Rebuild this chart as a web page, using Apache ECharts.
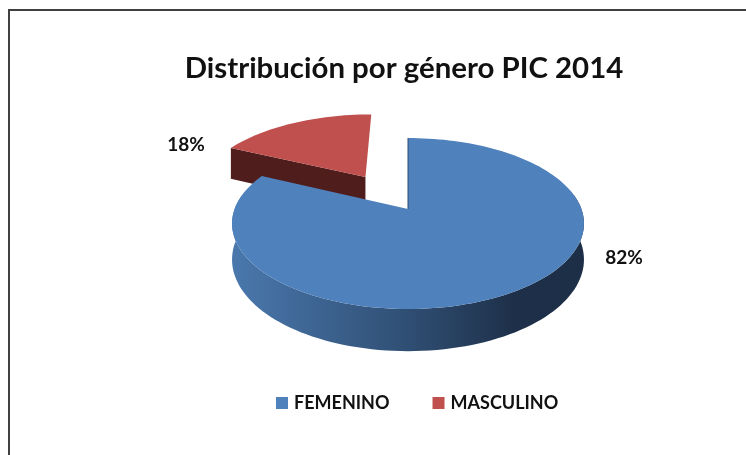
<!DOCTYPE html>
<html>
<head>
<meta charset="utf-8">
<style>
	html, body { margin: 0; padding: 0; background: #fff; }
	#main { width: 746px; height: 455px; }
</style>
<script src="https://cdn.jsdelivr.net/npm/echarts@6/dist/echarts.min.js"></script>
</head>
<body>
<div id="main"></div>
<script>
var titleText = 'Distribución por género PIC 2014';
var categories = ['FEMENINO', 'MASCULINO'];
var values = [82, 18];
var colors = ['#4f81bd', '#c0504d'];
var sideColors = ['#4a78ad', '#4f1e1c'];

// perspective of the tilted pie, fitted to the reference
var apexX = 408, apexY = 209;
var radiusX = 173.4, radiusY = 83, perspective = 0.17, depth = 35;
var explode = [0, 0.49];
var labelPos = [[624, 258], [186, 145]];

var total = values[0] + values[1];

function project(u, v, down) {
	var w = 1 + perspective * v;
	return [apexX + radiusX * u / w, apexY - radiusY * v / w + (down ? depth / w : 0)];
}

// point on the rim of slice, angle in degrees clockwise from the top
function rim(angle, offU, offV, down) {
	var a = angle * Math.PI / 180;
	return project(Math.sin(a) + offU, Math.cos(a) + offV, down);
}

function sliceRange(idx) {
	var start = 0;
	for (var i = 0; i < idx; i++) {
		start += values[i] / total * 360;
	}
	return [start, start + values[idx] / total * 360];
}

function buildSlice(idx) {
	return function (params, api) {
		var range = sliceRange(idx);
		var mid = (range[0] + range[1]) / 2 * Math.PI / 180;
		var offU = explode[idx] * Math.sin(mid);
		var offV = explode[idx] * Math.cos(mid);
		var top = [project(offU, offV, false)];
		var children = [];
		var a;

		for (a = range[0]; a < range[1]; a += 2) {
			top.push(rim(a, offU, offV, false));
		}
		top.push(rim(range[1], offU, offV, false));

		if (idx === 0) {
			// outer wall, only the front of the rim can be seen
			var upper = [], lower = [];
			for (a = 80; a <= 280; a += 2) {
				upper.push(rim(a, offU, offV, false));
				lower.unshift(rim(a, offU, offV, true));
			}
			children.push({
				type: 'polygon',
				shape: { points: upper.concat(lower) },
				style: {
					fill: new echarts.graphic.LinearGradient(233, 0, 585, 0, [
						{ offset: 0, color: '#4a78ad' },
						{ offset: 0.5, color: '#2f4e73' },
						{ offset: 0.8, color: '#1e3049' },
						{ offset: 1, color: '#1d2f47' }
					], true)
				}
			});
		} else {
			// cut face turned to the viewer
			children.push({
				type: 'polygon',
				shape: {
					points: [
						project(offU, offV, false),
						rim(range[0], offU, offV, false),
						rim(range[0], offU, offV, true),
						project(offU, offV, true)
					]
				},
				style: { fill: sideColors[idx] }
			});
		}

		children.push({
			type: 'polygon',
			shape: { points: top },
			style: { fill: colors[idx] }
		});

		if (idx === 0) {
			children.push({
				type: 'polyline',
				shape: { points: [rim(0, 0, 0, false), project(0, 0, false)] },
				style: { stroke: '#2c4a6e', lineWidth: 1, fill: null }
			});
		}

		children.push({
			type: 'text',
			style: {
				text: values[idx] + '%',
				x: labelPos[idx][0],
				y: labelPos[idx][1],
				align: 'center',
				verticalAlign: 'middle',
				fill: '#111',
				font: 'bold 19px Lato'
			}
		});

		return { type: 'group', children: children };
	};
}

function buildSeries(idx) {
	return {
		type: 'custom',
		name: categories[idx],
		coordinateSystem: 'none',
		silent: true,
		animation: false,
		itemStyle: { color: colors[idx] },
		renderItem: buildSlice(idx),
		data: [values[idx]]
	};
}

var myChart = echarts.init(document.getElementById('main'));

myChart.setOption({
	animation: false,
	title: {
		text: titleText,
		left: 399,
		textAlign: 'center',
		top: 49,
		textStyle: { fontFamily: 'Lato', fontWeight: 'bold', fontSize: 29.4, color: '#111' }
	},
	legend: {
		data: categories,
		left: 276,
		top: 394,
		padding: 0,
		icon: 'rect',
		itemWidth: 12,
		itemHeight: 12,
		itemGap: 43,
		selectedMode: false,
		textStyle: { fontFamily: 'Lato', fontWeight: 'bold', fontSize: 18, color: '#111', padding: [0, 0, 0, 1] }
	},
	graphic: [
		{
			type: 'polyline',
			silent: true,
			shape: { points: [[9, 455], [9, 10], [746, 10]] },
			style: { stroke: '#404040', lineWidth: 2, fill: null }
		}
	],
	// masculino goes first, the big slice covers its lower part
	series: [buildSeries(1), buildSeries(0)]
});
</script>
</body>
</html>
